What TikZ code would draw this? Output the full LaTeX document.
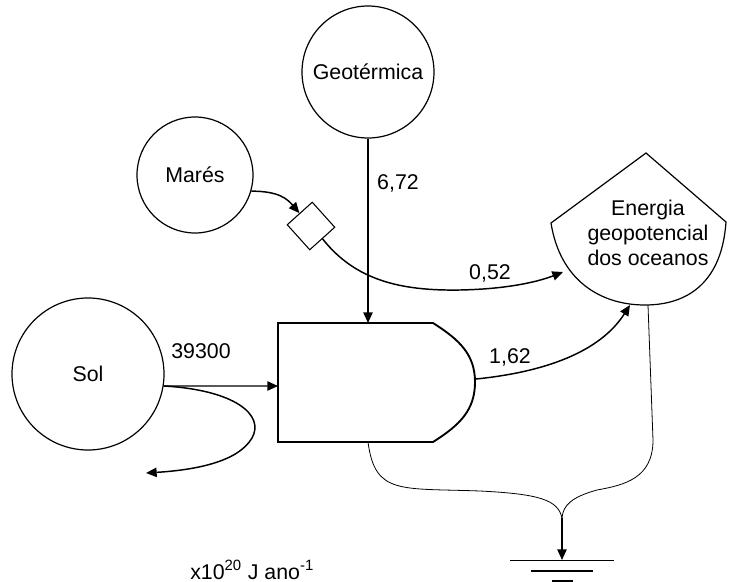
\documentclass[tikz,border=0pt]{standalone}
\usepackage{fontspec}
\setmainfont{Liberation Sans}
\usetikzlibrary{shapes.geometric,arrows.meta}
\begin{document}
\begin{tikzpicture}[x=0.75pt,y=-0.75pt,
  every node/.style={font=\fontsize{16}{18.5}\selectfont},
  src/.style={circle,draw,line width=0.9pt,inner sep=0pt},
  flow/.style={line width=1.1pt},
  arr/.style={flow,-{Triangle[length=8pt,width=7pt]}},
  thin/.style={line width=0.6pt},
  lbl/.style={inner sep=0pt}]
\useasboundingbox (0,0) rectangle (729,582);
% sources
\node[src,minimum size=99pt] (geo) at (368,72) {Geotérmica};
\node[src,minimum size=87pt] (mares) at (195,175) {Marés};
\node[src,minimum size=114pt] (sol) at (88,374) {Sol};
% switch (diamond)
\node[diamond,draw,line width=0.8pt,minimum width=36pt,minimum height=36pt,inner sep=0pt,rotate=-3] (dia) at (311,226) {};
% producer
\draw[line width=1.4pt] (278,323) -- (433,323) .. controls (460,340) and (475,355) .. (475,382)
  .. controls (475,410) and (460,425) .. (433,442) -- (278,442) -- cycle;
\coordinate (prodin) at (278,386);
\coordinate (prodtop) at (368,323);
\coordinate (prodout) at (476,379);
\coordinate (prodbot) at (368,442);
% storage tank
\draw[line width=0.9pt] (646,153) -- (726,222) .. controls (722,280) and (690,305) .. (645,305)
  .. controls (600,305) and (560,280) .. (551,223) -- cycle;
\node[align=center,lbl] (st) at (648,233) {Energia\\geopotencial\\dos oceanos};
\coordinate (stin1) at (563,272);
\coordinate (stin2) at (630,305);
\coordinate (stout) at (648,305);
% ground
\coordinate (gnd) at (562,518);
\coordinate (gtop) at (562,560);
\coordinate (g1l) at (510,560); \coordinate (g1r) at (614,560);
\coordinate (g2l) at (531,571); \coordinate (g2r) at (593,571);
\coordinate (g3l) at (552,581); \coordinate (g3r) at (573,581);
\draw[thin] (g1l) -- (g1r);
\draw[line width=1.5pt] (g2l) -- (g2r);
\draw[line width=2pt] (g3l) -- (g3r);
% flows
\draw[arr] (geo.south) -- (prodtop);
\node[lbl] (l672) at (398,183) {6,72};
\draw[arr] (mares.-16) .. controls +(28,0) and +(-12,-14) .. (dia.north west);
\draw[arr] (dia.south east) .. controls (355,280) and (400,291) .. (460,290)
  .. controls (510,289) and (540,281) .. (stin1);
\node[lbl] (l052) at (490,273) {0,52};
\draw[arr] (sol.-9) -- (prodin);
\node[lbl] (l39300) at (201,351) {39300};
\coordinate (loopend) at (146,473);
\draw[arr] (sol.-9) .. controls (235,390) and (265,415) .. (252,438)
  .. controls (238,462) and (195,470) .. (loopend);
\draw[arr] (prodout) .. controls (545,372) and (600,352) .. (stin2);
\node[lbl] (l162) at (510,357) {1,62};
% losses to heat sink
\draw[thin] (prodbot) .. controls (375,495) and (400,488) .. (480,491)
  .. controls (540,494) and (558,500) .. (gnd);
\draw[thin] (stout) -- (653,440) .. controls (653,478) and (625,485) .. (597,490)
  .. controls (572,497) and (563,505) .. (gnd);
\draw[arr] (gnd) -- (gtop);
% units
\node[lbl,anchor=west] (units) at (190,570) {x10\textsuperscript{20} J ano\textsuperscript{-1}};
\end{tikzpicture}
\end{document}
